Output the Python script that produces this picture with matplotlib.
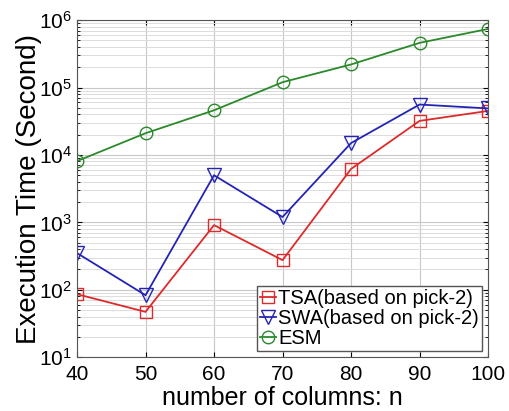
import matplotlib.pyplot as plt
import numpy as np

plt.rcParams['font.family'] = ['Liberation Sans', 'DejaVu Sans']
plt.rcParams['mathtext.fontset'] = 'custom'
plt.rcParams['mathtext.rm'] = 'Liberation Sans'

columns = [40, 50, 60, 70, 80, 90, 100]
tsa_time = [86, 47, 910, 275, 6200, 32000, 45000]
swa_time = [350, 83, 5000, 1200, 15000, 56000, 49000]
esm_time = [8100, 21000, 46000, 120000, 220000, 460000, 740000]

fig, ax = plt.subplots(figsize=(5.1, 4.11), dpi=100)
fig.subplots_adjust(left=0.151, right=0.957, top=0.951, bottom=0.131)

ax.plot(columns, tsa_time, color='#dd2a2a', marker='s', mfc='none', ms=8, lw=1.3,
        label='TSA(based on pick-2)')
ax.plot(columns, swa_time, color='#2424b4', marker='v', mfc='none', ms=10, lw=1.3,
        label='SWA(based on pick-2)')
ax.plot(columns, esm_time, color='#2a8a2a', marker='o', mfc='none', ms=9, lw=1.3,
        label='ESM')

ax.set_yscale('log')
ax.set_xlim(40, 100)
ax.set_ylim(10, 1e6)
ax.set_xticks(columns)
ax.set_yticks([1e1, 1e2, 1e3, 1e4, 1e5, 1e6])
ax.grid(True, which='major', color='#c8c8c8', lw=0.8)
ax.grid(True, which='minor', axis='y', color='#dcdcdc', lw=0.7)
ax.tick_params(which='both', direction='in', top=True, right=True, labelsize=15)
ax.tick_params(axis='x', pad=6)
for s in ax.spines.values():
    s.set_color('#555555')

ax.set_xlabel('number of columns: n', fontsize=18, labelpad=1)
ax.set_ylabel('Execution Time (Second)', fontsize=20, labelpad=-2)

leg = ax.legend(loc='lower right', fontsize=14.5, handlelength=0.8, handletextpad=0.1,
                borderpad=0.15, labelspacing=0.05, fancybox=False, framealpha=1,
                borderaxespad=0.3)
leg.get_frame().set_edgecolor('#555555')

fig.savefig('out.png')
